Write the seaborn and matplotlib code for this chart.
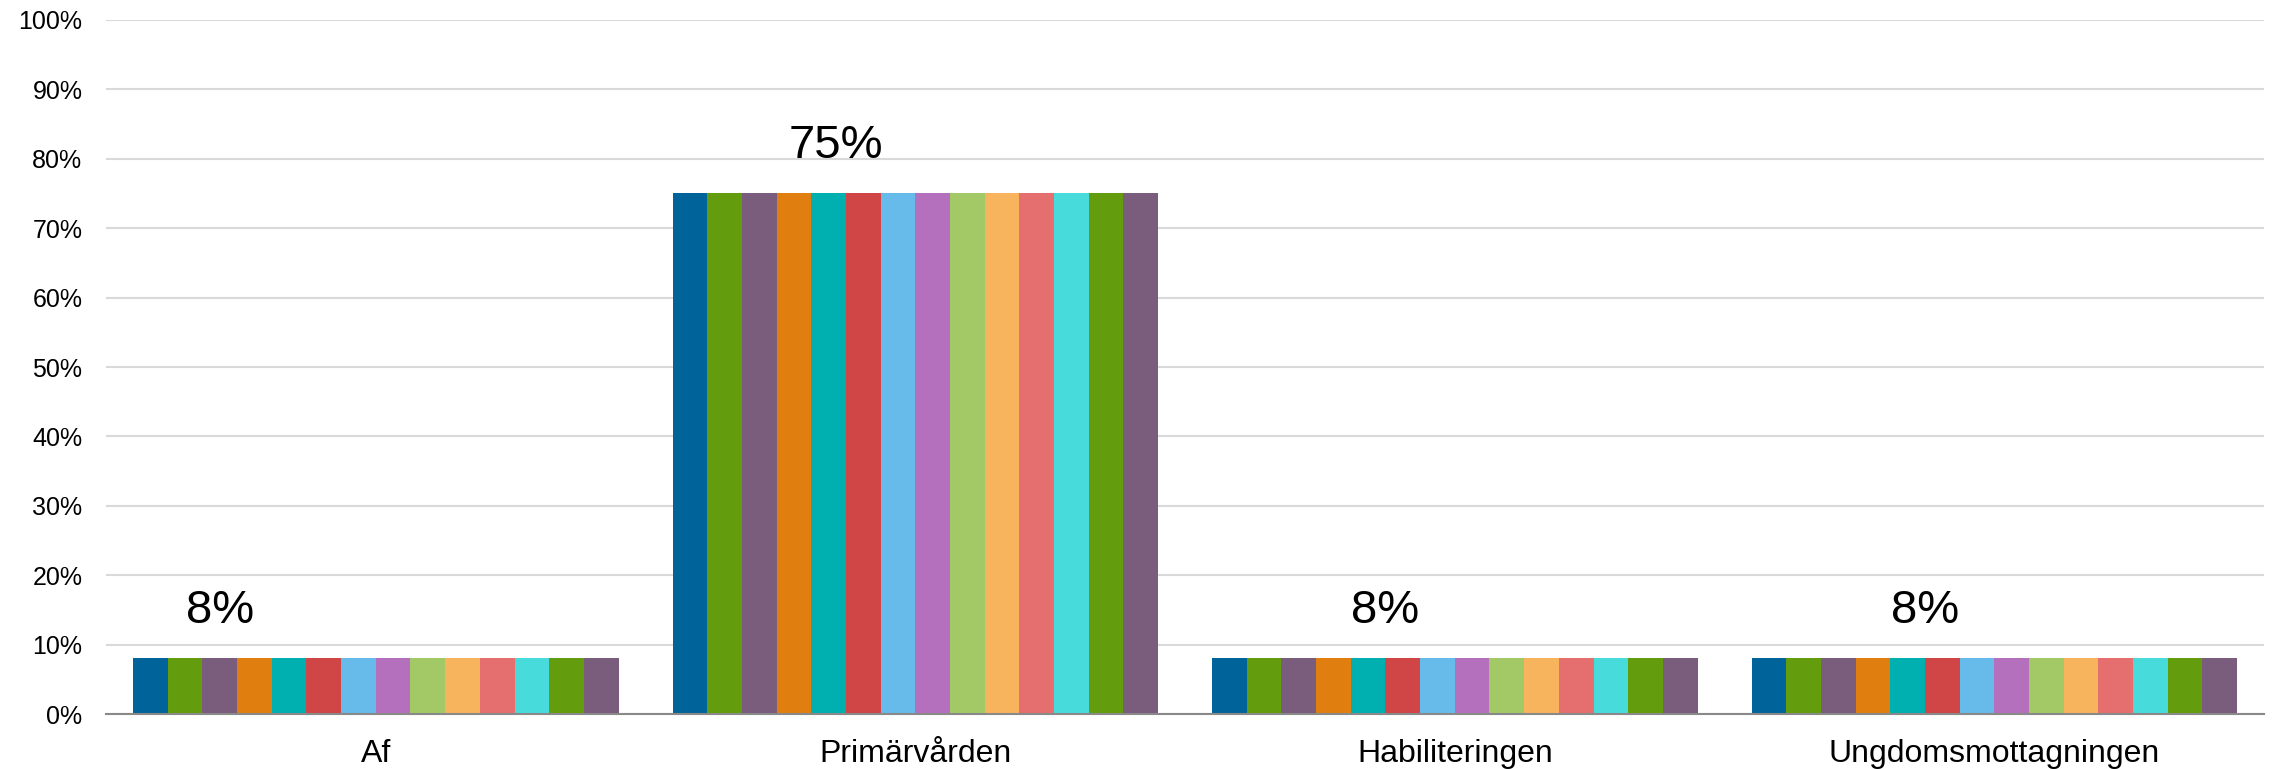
import matplotlib
matplotlib.use("Agg")
import matplotlib.pyplot as plt
import seaborn as sns
import pandas as pd
from matplotlib.ticker import PercentFormatter

# Données du graphique
categories = ["Af", "Primärvården", "Habiliteringen", "Ungdomsmottagningen"]
values = [8, 75, 8, 8]
n_series = 14
series = [f"Serie {i + 1}" for i in range(n_series)]
value_labels = ["8%", "75%", "8%", "8%"]

colors = ["#00649a", "#639d0d", "#7a5c7d", "#e07f0f", "#00b0b0", "#d04545", "#66bbeb",
          "#b570bd", "#a3c966", "#f7b45d", "#e56e6e", "#47dbdb", "#639d0d", "#7a5c7d"]

# bar on which each value label sits (series index, fraction across bar)
label_anchor = [(2, 0.5), (4, 0.7), (5, 0.0), (5, 0.0)]

rows = [{"cat": c, "serie": s, "val": v} for c, v in zip(categories, values) for s in series]
df = pd.DataFrame(rows)

sns.set_theme(style="white")
plt.rcParams["font.family"] = ["Liberation Sans", "DejaVu Sans"]

fig = plt.figure(figsize=(22.8, 7.69), dpi=100)
ax = fig.add_axes([0.0465, 0.0715, 0.9465, 0.9025])

sns.barplot(data=df, x="cat", y="val", hue="serie", palette=colors, width=0.9,
            saturation=1, linewidth=0, legend=False, ax=ax, errorbar=None)

ax.set_ylim(0, 100)
ax.set_yticks(range(0, 101, 10))
ax.yaxis.set_major_formatter(PercentFormatter(decimals=0))
ax.grid(axis="y", color="#d9d9d9", linewidth=1.5)
ax.set_axisbelow(True)
ax.set_xlim(-0.5, len(categories) - 0.5)

for side in ["left", "right", "top"]:
    ax.spines[side].set_visible(False)
ax.spines["bottom"].set_color("#898989")
ax.spines["bottom"].set_linewidth(1.5)

ax.tick_params(axis="y", labelsize=18, length=0, pad=17, colors="black")
ax.tick_params(axis="x", labelsize=23, length=0, pad=18, colors="black")
ax.set_xlabel("")
ax.set_ylabel("")

for i, (txt, (k, frac)) in enumerate(zip(value_labels, label_anchor)):
    p = ax.containers[k][i]
    x = p.get_x() + p.get_width() * frac
    ax.annotate(txt, (x, p.get_height()), xytext=(0, 38), textcoords="offset points",
                ha="center", va="center_baseline", fontsize=34, color="black")

fig.savefig("out.png", dpi=100)
